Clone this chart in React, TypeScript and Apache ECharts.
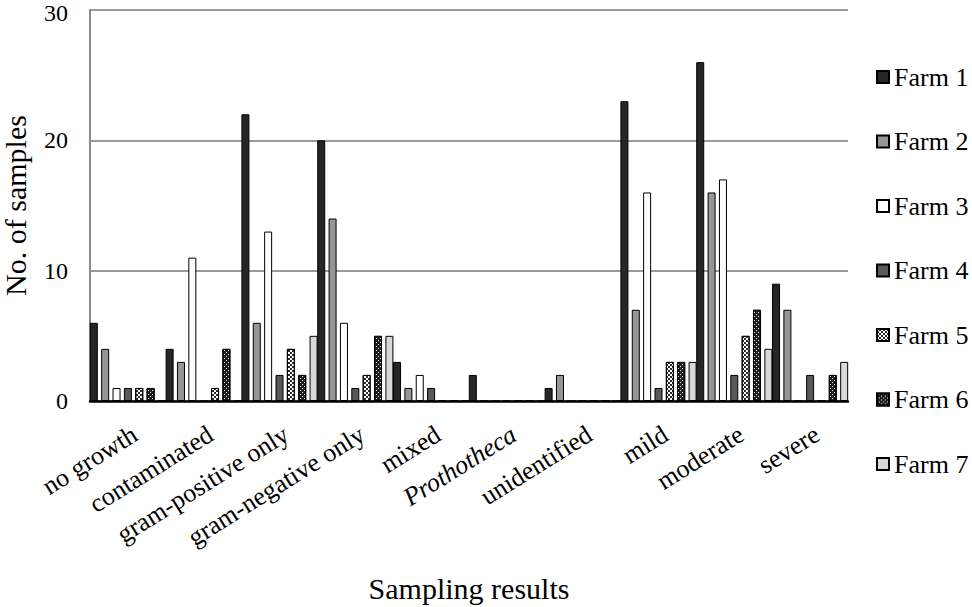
import React, { useEffect, useRef } from "react";
import * as echarts from "echarts";

const categories = [
  "no growth",
  "contaminated",
  "gram-positive only",
  "gram-negative only",
  "mixed",
  "Prothotheca",
  "unidentified",
  "mild",
  "moderate",
  "severe",
];

const farm1 = [6, 4, 22, 20, 3, 2, 1, 23, 26, 9];
const farm2 = [4, 3, 6, 14, 1, 0, 2, 7, 16, 7];
const farm3 = [1, 11, 13, 6, 2, 0, 0, 16, 17, 0];
const farm4 = [1, 0, 2, 1, 1, 0, 0, 1, 2, 2];
const farm5 = [1, 1, 4, 2, 0, 0, 0, 3, 5, 0];
const farm6 = [1, 4, 2, 5, 0, 0, 0, 3, 7, 2];
const farm7 = [0, 0, 5, 5, 0, 0, 0, 3, 4, 3];

const seriesNames = ["Farm 1", "Farm 2", "Farm 3", "Farm 4", "Farm 5", "Farm 6", "Farm 7"];
const yTicks = [0, 10, 20, 30];

const FONT = "'Liberation Serif', 'Times New Roman', serif";

export default function App() {
  const ref = useRef<HTMLDivElement>(null);

  useEffect(() => {
    if (!ref.current) return;
    const chart = echarts.init(ref.current, undefined, { renderer: "svg" });
    const data = [farm1, farm2, farm3, farm4, farm5, farm6, farm7];
    const styles: any[] = [
      { color: "#262626" },
      { color: "#969696" },
      { color: "#ffffff" },
      { color: "#595959" },
      {
        color: "#ffffff",
        decal: {
          symbol: "rect",
          symbolSize: 1,
          color: "#2a2a2a",
          dashArrayX: [[2, 2], [0, 2, 2, 0]],
          dashArrayY: [2, 0],
        },
      },
      {
        color: "#1e1e1e",
        decal: {
          symbol: "rect",
          symbolSize: 1,
          color: "#eeeeee",
          dashArrayX: [[1, 3], [0, 2, 1, 1]],
          dashArrayY: [1, 1],
        },
      },
      { color: "#d9d9d9" },
    ];
    const series = seriesNames.map((name, i) => ({
      name,
      type: "bar",
      data: data[i],
      barWidth: 8,
      barGap: "42%",
      itemStyle: { ...styles[i], borderColor: "#000", borderWidth: 1 },
    }));

    const topTick = yTicks[yTicks.length - 1];

    chart.setOption({
      animation: false,
      backgroundColor: "#ffffff",
      textStyle: { fontFamily: FONT, color: "#000" },
      grid: {
        left: 90,
        top: 10,
        right: 124,
        bottom: 206,
        containLabel: false,
        outerBoundsMode: "none",
      },
      legend: {
        orient: "vertical",
        left: 876,
        top: 64,
        padding: 0,
        itemWidth: 12,
        itemHeight: 12,
        itemGap: 38.5,
        icon: "rect",
        data: seriesNames,
        textStyle: { fontFamily: FONT, fontSize: 26, color: "#000", lineHeight: 26 },
      },
      xAxis: {
        type: "category",
        data: categories,
        name: "Sampling results",
        nameLocation: "middle",
        nameGap: 172,
        nameTextStyle: { fontFamily: FONT, fontSize: 30, color: "#000" },
        axisLine: { lineStyle: { color: "#000", width: 2.5 } },
        axisTick: { show: false },
        axisLabel: {
          interval: 0,
          rotate: 32,
          margin: 20,
          align: "right",
          verticalAlign: "top",
          fontFamily: FONT,
          fontSize: 26,
          color: "#000",
          formatter: (v: string) => (v === "Prothotheca" ? `{i|${v}}` : v),
          rich: { i: { fontStyle: "italic", fontFamily: FONT, fontSize: 26, color: "#000" } },
        },
      },
      yAxis: {
        type: "value",
        min: yTicks[0],
        max: topTick,
        interval: 10,
        name: "No. of samples",
        nameLocation: "middle",
        nameGap: 60,
        nameTextStyle: { fontFamily: FONT, fontSize: 30, lineHeight: 30, color: "#000" },
        axisLine: { show: true, lineStyle: { color: "#8c8c8c", width: 2 } },
        axisTick: { show: false },
        splitLine: { show: true, lineStyle: { color: "#9a9a9a", width: 2 } },
        axisLabel: {
          margin: 22,
          fontFamily: FONT,
          fontSize: 24,
          lineHeight: 20,
          color: "#000",
          formatter: (v: number) => (v === topTick ? `{t|${v}}` : `${v}`),
          rich: {
            t: { fontFamily: FONT, fontSize: 24, lineHeight: 20, color: "#000", padding: [6, 0, 0, 0] },
          },
        },
      },
      series,
    });
    return () => chart.dispose();
  }, []);

  return (
    <div
      ref={ref}
      style={{ position: "fixed", left: 0, top: 0, width: 972, height: 607, background: "#fff" }}
    />
  );
}
